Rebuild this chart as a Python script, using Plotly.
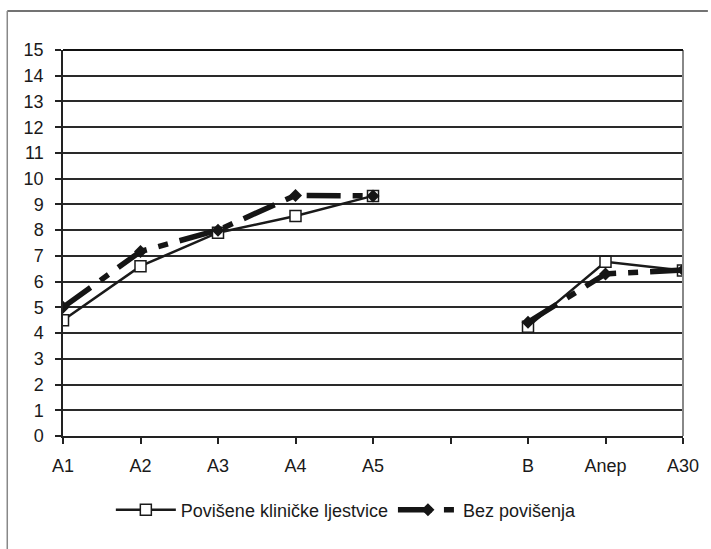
import plotly.graph_objects as go

categories = ["A1", "A2", "A3", "A4", "A5", "", "B", "Anep", "A30"]
povisene = [4.5, 6.6, 7.9, 8.55, 9.33, None, 4.25, 6.77, 6.43]
bez_povisenja = [5.0, 7.17, 8.0, 9.35, 9.33, None, 4.42, 6.3, 6.45]
y_ticks = list(range(0, 16))

x_pos = list(range(len(categories)))

W, H = 711, 549
L, R, T, B = 63, 25, 50, 113
pw, ph = W - L - R, H - T - B

def px_to_paper_x(px):
    return (px - L) / pw

def px_to_paper_y(py):
    return (H - B - py) / ph

fig = go.Figure()
fig.add_trace(go.Scatter(
    x=x_pos, y=povisene, mode="lines+markers",
    name="Povišene kliničke ljestvice",
    line=dict(color="#1a1a1a", width=2.5),
    marker=dict(symbol="square", size=11, color="white",
                line=dict(color="#1a1a1a", width=1.5)),
    connectgaps=False,
))
fig.add_trace(go.Scatter(
    x=x_pos, y=bez_povisenja, mode="lines+markers",
    name="Bez povišenja",
    line=dict(color="#151515", width=5.5, dash="34px,12px,10px,12px"),
    marker=dict(symbol="diamond", size=10, color="#151515"),
    connectgaps=False,
))

font = "Liberation Sans, Arial, sans-serif"
fig.update_layout(
    width=W, height=H,
    margin=dict(l=L, r=R, t=T, b=B),
    paper_bgcolor="white", plot_bgcolor="white",
    font=dict(family=font, size=18, color="#1a1a1a"),
    showlegend=True,
    legend=dict(orientation="h", x=0.457, xanchor="center",
                y=px_to_paper_y(510), yanchor="middle",
                font=dict(size=18, color="#1a1a1a"),
                itemwidth=60, bgcolor="rgba(0,0,0,0)"),
    xaxis=dict(range=[0, 8], tickvals=x_pos, ticktext=categories,
               showgrid=False, zeroline=False, showline=True,
               linecolor="#222", linewidth=1.5, ticks="outside",
               ticklen=6, tickcolor="#222", tickwidth=1.5,
               ticklabelstandoff=7,
               tickfont=dict(size=18, color="#1a1a1a"), fixedrange=True),
    yaxis=dict(range=[0, 15], tickvals=y_ticks,
               showgrid=True, gridcolor="#2a2a2a", gridwidth=1.5,
               zeroline=False, showline=True, linecolor="#222",
               linewidth=1.5, ticks="outside", ticklen=6,
               tickcolor="#222", tickwidth=1.5,
               ticklabelstandoff=8,
               tickfont=dict(size=18, color="#1a1a1a"), fixedrange=True),
    shapes=[
        dict(type="line", xref="paper", yref="paper", x0=1, x1=1, y0=0, y1=1,
             line=dict(color="#888", width=2)),
        dict(type="line", xref="paper", yref="paper", x0=0, x1=1, y0=1, y1=1,
             line=dict(color="#111", width=2)),
        dict(type="line", xref="paper", yref="paper",
             x0=px_to_paper_x(7), x1=px_to_paper_x(711),
             y0=px_to_paper_y(11), y1=px_to_paper_y(11),
             line=dict(color="#444", width=1.5)),
        dict(type="line", xref="paper", yref="paper",
             x0=px_to_paper_x(7), x1=px_to_paper_x(7),
             y0=px_to_paper_y(11), y1=px_to_paper_y(549),
             line=dict(color="#888", width=1.5)),
    ],
)

fig.write_html("out.html")
